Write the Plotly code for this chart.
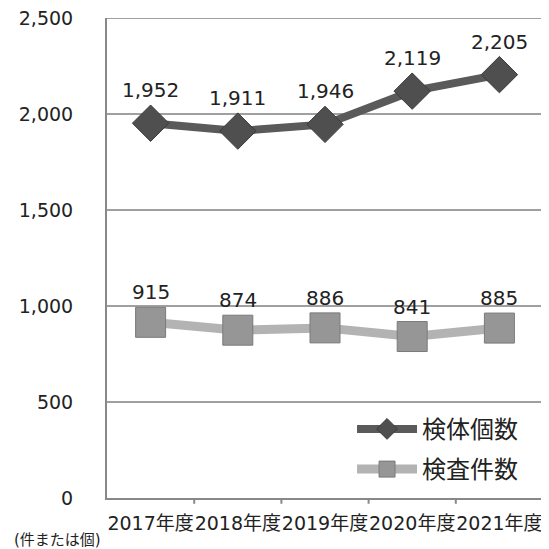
import plotly.graph_objects as go

categories = ["2017年度", "2018年度", "2019年度", "2020年度", "2021年度"]
specimens = [1952, 1911, 1946, 2119, 2205]   # 検体個数
tests = [915, 874, 886, 841, 885]            # 検査件数
y_ticks = [0, 500, 1000, 1500, 2000, 2500]
y_tick_text = ["0", "500", "1,000", "1,500", "2,000", "2,500"]

FONT = "DejaVu Sans, Noto Sans CJK JP"
GRID = "#a0a0a0"

fig = go.Figure()
fig.add_trace(go.Scatter(
    x=categories, y=specimens, name="検体個数", mode="lines+markers",
    legendgroup="a",
    line=dict(color="#5a5a5a", width=8),
    marker=dict(symbol="diamond", size=28, color="#4f4f4f",
                line=dict(color="#3a3a3a", width=1)),
))
fig.add_trace(go.Scatter(
    x=categories, y=tests, name="検査件数", mode="lines+markers",
    legendgroup="b",
    line=dict(color="#b3b3b3", width=9),
    marker=dict(symbol="square", size=30, color="#969696",
                line=dict(color="#7a7a7a", width=1)),
))

for c, v in zip(categories, specimens):
    fig.add_annotation(x=c, y=v, text=f"{v:,}", showarrow=False, yshift=33,
                       font=dict(size=20, color="#222222", family=FONT))
for c, v in zip(categories, tests):
    fig.add_annotation(x=c, y=v, text=f"{v:,}", showarrow=False, yshift=30,
                       font=dict(size=20, color="#222222", family=FONT))

fig.add_annotation(x=0, y=0, xref="paper", yref="paper", text="(件または個)",
                   showarrow=False, xanchor="right", yanchor="top",
                   xshift=-4, yshift=-31,
                   font=dict(size=15, color="#222222", family=FONT))

fig.update_layout(
    width=541, height=541,
    margin=dict(l=99, r=6, t=10, b=51, autoexpand=False),
    paper_bgcolor="white", plot_bgcolor="white",
    showlegend=True,
    legend=dict(x=0.562, y=0.19, xanchor="left", yanchor="top",
                font=dict(size=24, color="#222222", family=FONT),
                bgcolor="rgba(255,255,255,0)", itemwidth=60,
                tracegroupgap=6),
    font=dict(family=FONT),
)
fig.update_xaxes(
    type="category", showgrid=False, showline=True, linecolor="#888888",
    linewidth=2, ticks="", tickfont=dict(size=19, color="#222222"),
    range=[-0.5, 4.5], ticklabelstandoff=7, tickangle=0,
    ticklabeloverflow="allow", automargin=False,
)
fig.update_yaxes(
    range=[0, 2500], tickvals=y_ticks, ticktext=y_tick_text,
    showgrid=True, gridcolor=GRID, gridwidth=2,
    showline=True, linecolor="#888888", linewidth=2,
    tickfont=dict(size=19, color="#222222"), ticklen=0, zeroline=False,
    ticklabelstandoff=28, ticklabeloverflow="allow", automargin=False,
)
# top gridline at the range maximum (plotly omits gridlines on the plot edge)
fig.add_shape(type="line", xref="paper", yref="y", x0=0, x1=1,
              y0=y_ticks[-1], y1=y_ticks[-1], line=dict(color=GRID, width=2),
              layer="below")
# category boundary ticks on x axis
for i in range(1, 5):
    fig.add_shape(type="line", xref="x", yref="paper", x0=i - 0.5, x1=i - 0.5,
                  y0=0, y1=-0.012, line=dict(color="#888888", width=2))
fig.add_shape(type="line", xref="x", yref="paper", x0=4.5, x1=4.5,
              y0=0, y1=0.03, line=dict(color="#888888", width=2))

fig.write_html("out.html")
